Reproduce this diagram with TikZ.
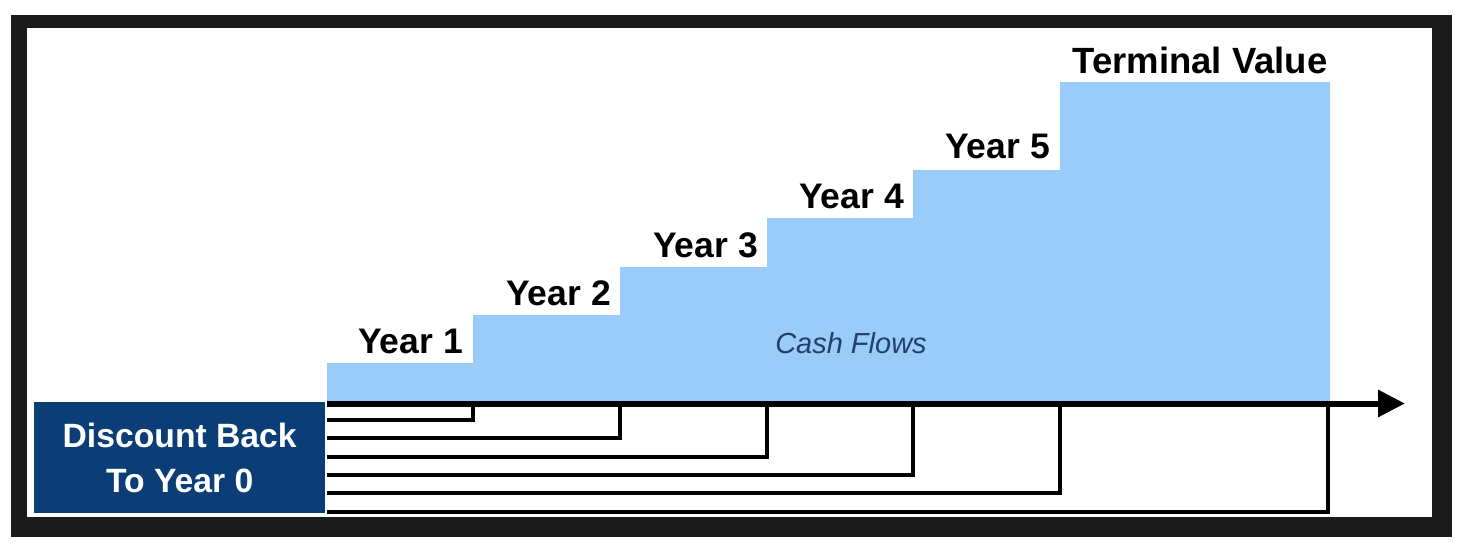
\documentclass[tikz,border=0pt]{standalone}
\usepackage{fontspec}
\setmainfont{Liberation Sans}
\usetikzlibrary{arrows.meta}
\definecolor{framegray}{HTML}{1B1B1B}
\definecolor{cashblue}{HTML}{9ACCF9}
\definecolor{navy}{HTML}{0B3D77}
\definecolor{cashtext}{HTML}{22406A}
\begin{document}
\begin{tikzpicture}[x=1pt,y=-1pt,
  lab/.style={font=\fontsize{35.5}{40}\selectfont\bfseries, text=black, inner sep=0pt},
  axisline/.style={line width=6pt, -{Triangle[length=27pt,width=26pt]}},
  dline/.style={line width=4pt, draw=black},
  disc/.style={fill=navy, text=white, font=\fontsize{33.7}{45}\selectfont\bfseries, align=center, inner sep=0pt, minimum width=291pt, minimum height=111pt}
]
\useasboundingbox (0,0) rectangle (1469,554);
\fill[white] (0,0) rectangle (1469,554);
\fill[framegray] (11,15) rectangle (1452,537);
\fill[white] (27,28) rectangle (1432,517);

% cash flow steps
\fill[cashblue] (327,403) -- (327,363) -- (473,363) -- (473,315) -- (620,315) -- (620,267)
  -- (767,267) -- (767,218) -- (913,218) -- (913,170) -- (1060,170) -- (1060,82)
  -- (1330,82) -- (1330,403) -- cycle;

% labels
\node[lab, anchor=base east] (y1) at (463,353) {Year 1};
\node[lab, anchor=base east] (y2) at (611,305) {Year 2};
\node[lab, anchor=base east] (y3) at (758,257) {Year 3};
\node[lab, anchor=base east] (y4) at (904,208) {Year 4};
\node[lab, anchor=base east] (y5) at (1050,158) {Year 5};
\node[lab, font=\fontsize{36.5}{40}\selectfont\bfseries, anchor=base] (tv) at (1200,73) {Terminal Value};
\node[font=\fontsize{29}{34}\selectfont\itshape, text=cashtext, anchor=base, inner sep=0pt] (cf) at (851,353) {Cash Flows};

% discount box
\node[disc, anchor=north west] (dbox) at (34,402) {Discount Back\\To Year 0};

% axis coordinates
\coordinate (ax0) at (327,403.5);
\coordinate (axend) at (1405,403.5);
\coordinate (v1) at (473,403.5);
\coordinate (v2) at (620,403.5);
\coordinate (v3) at (767,403.5);
\coordinate (v4) at (913,403.5);
\coordinate (v5) at (1060,403.5);
\coordinate (v6) at (1328,403.5);
\coordinate (h1) at (327,420);
\coordinate (h2) at (327,438);
\coordinate (h3) at (327,457);
\coordinate (h4) at (327,475);
\coordinate (h5) at (327,493);
\coordinate (h6) at (327,512);

\draw[dline] (v1) |- (h1);
\draw[dline] (v2) |- (h2);
\draw[dline] (v3) |- (h3);
\draw[dline] (v4) |- (h4);
\draw[dline] (v5) |- (h5);
\draw[dline] (v6) |- (h6);

\draw[axisline] (ax0) -- (axend);
\end{tikzpicture}
\end{document}
